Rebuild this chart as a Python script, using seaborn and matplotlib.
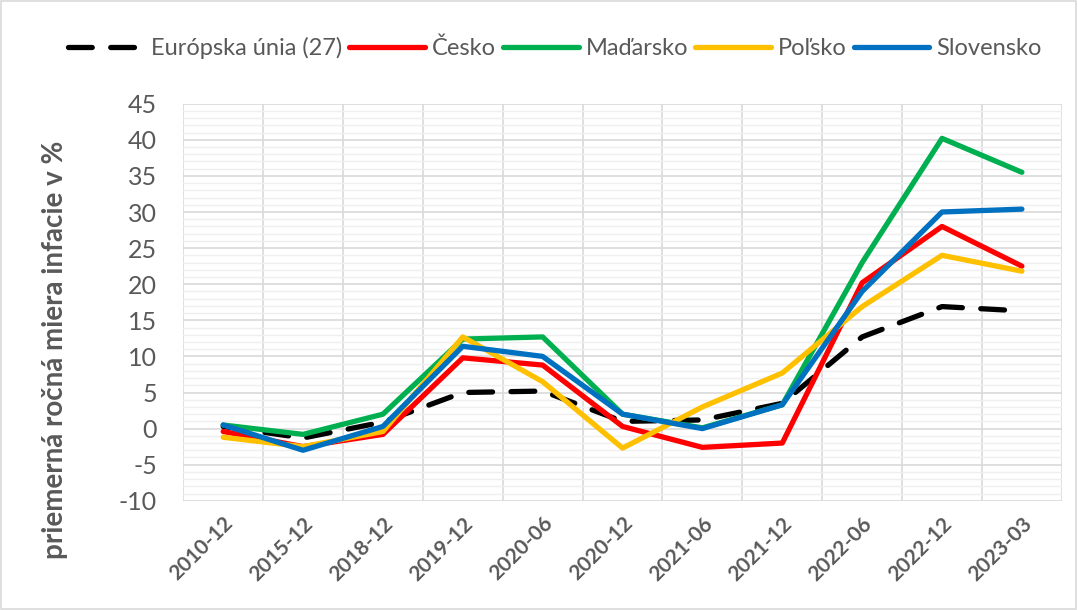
import numpy as np
import pandas as pd
import seaborn as sns
import matplotlib.pyplot as plt
from matplotlib.patches import Rectangle

# ------------------------------
# DATA
# ------------------------------
periods = ["2010-12", "2015-12", "2018-12", "2019-12", "2020-06", "2020-12",
           "2021-06", "2021-12", "2022-06", "2022-12", "2023-03"]
eu27 = [0.3, -1.3, 0.9, 5.0, 5.2, 1.0, 1.2, 3.5, 12.7, 16.9, 16.3]
cesko = [-0.4, -2.5, -0.8, 9.8, 8.8, 0.3, -2.6, -2.0, 20.2, 28.0, 22.5]
madarsko = [0.5, -0.8, 2.0, 12.4, 12.7, 2.0, 0.1, 3.3, 23.0, 40.2, 35.5]
polsko = [-1.2, -2.5, -0.4, 12.7, 6.5, -2.7, 3.0, 7.7, 16.9, 24.0, 21.8]
slovensko = [0.5, -3.0, 0.3, 11.4, 10.0, 2.0, 0.0, 3.3, 19.0, 30.0, 30.4]

series_names = ["Európska únia (27)", "Česko", "Maďarsko", "Poľsko", "Slovensko"]
series_values = [eu27, cesko, madarsko, polsko, slovensko]
colors = ["#000000", "#FF0000", "#00B050", "#FFC000", "#0070C0"]

df = pd.DataFrame({
    "pos": np.tile(np.arange(len(periods)), len(series_names)),
    "value": np.concatenate(series_values),
    "krajina": np.repeat(series_names, len(periods)),
})

# ------------------------------
# PLOT
# ------------------------------
sns.set_style("white")
plt.rcParams["font.family"] = ["Lato", "DejaVu Sans"]
plt.rcParams["axes.unicode_minus"] = False
text_color = "#595959"

fig = plt.figure(figsize=(10.78, 6.10), dpi=100)
ax = fig.add_axes([0.170, 0.179, 0.815, 0.651])

for name, col in zip(series_names, colors):
    sub = df[df["krajina"] == name]
    sns.lineplot(data=sub, x="pos", y="value", ax=ax, color=col, linewidth=3.8,
                 label=name, solid_capstyle="round", dash_capstyle="round")
ax.lines[0].set_dashes([4.5, 3.5])

ax.set_xlim(-0.5, len(periods) - 0.5)
ax.set_ylim(-10, 45)
ax.set_yticks(np.arange(-10, 46, 5))
ax.set_yticks(np.arange(-10, 46, 1), minor=True)
ax.set_xticks(np.arange(len(periods)))
ax.set_xticklabels(periods, rotation=45, ha="right", rotation_mode="anchor",
                   fontsize=15, fontweight="bold", color=text_color)
ax.set_xticks(np.arange(-0.5, len(periods), 1), minor=True)
ax.tick_params(axis="y", labelsize=18, colors=text_color, length=0, pad=19)
ax.tick_params(axis="x", length=0, pad=9)
ax.tick_params(which="minor", length=0)

ax.grid(False)
ax.yaxis.grid(True, which="major", color="#d9d9d9", linewidth=1.2)
ax.yaxis.grid(True, which="minor", color="#efefef", linewidth=1.0)
ax.xaxis.grid(True, which="minor", color="#d9d9d9", linewidth=1.2)
ax.set_axisbelow(True)
for s in ax.spines.values():
    s.set_visible(False)

ax.set_xlabel("")
ax.set_ylabel("priemerná ročná miera infacie v %", fontsize=20, fontweight="bold",
              color=text_color)
ax.yaxis.set_label_coords(-0.131, 0.38)

ax.get_legend().remove()
handles, labels = ax.get_legend_handles_labels()
leg = fig.legend(handles, labels, loc="center", bbox_to_anchor=(0.515, 0.921),
                 ncol=5, frameon=False, fontsize=17, handlelength=3.2,
                 handletextpad=0.3, columnspacing=0.3)
for t in leg.get_texts():
    t.set_color(text_color)

# light frame around whole chart
fig.patches.append(Rectangle((0.001, 0.002), 0.997, 0.996, transform=fig.transFigure,
                             fill=False, edgecolor="#d9d9d9", linewidth=1.2))

fig.savefig("out.png", dpi=100)
